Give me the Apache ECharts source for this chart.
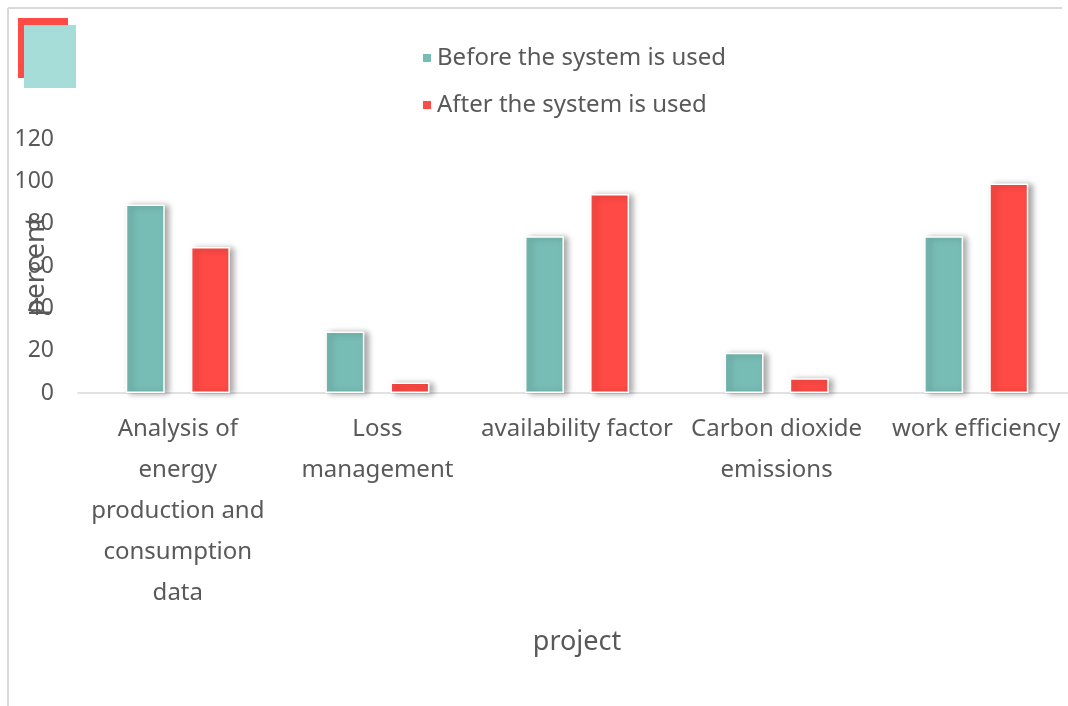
<!DOCTYPE html>
<html>
<head>
<meta charset="utf-8">
<script src="https://cdn.jsdelivr.net/npm/echarts@6/dist/echarts.min.js"></script>
<style>
  html, body { margin: 0; padding: 0; background: #fff; }
  #chart { width: 1068px; height: 706px; }
</style>
</head>
<body>
<div id="chart"></div>
<script>
// categories (line breaks as in the picture)
const categories = [
  'Analysis of\nenergy\nproduction and\nconsumption\ndata',
  'Loss\nmanagement',
  'availability factor',
  'Carbon dioxide\nemissions',
  'work efficiency'
];
const beforeValues = [89, 29, 74, 19, 74];
const afterValues = [69, 5, 94, 7, 99];
const seriesNames = ['Before the system is used', 'After the system is used'];

const teal = '#77bdb5';
const red = '#ff4a45';
const font = '"Noto Sans", "Open Sans", sans-serif';
const textColor = '#595959';

const chart = echarts.init(document.getElementById('chart'));

// shared bar look: thin white edge and soft shadow to the right
function barStyle(color) {
  return {
    color: color,
    borderColor: '#fff',
    borderWidth: 1.5,
    shadowColor: 'rgba(0,0,0,0.35)',
    shadowBlur: 6,
    shadowOffsetX: 4,
    shadowOffsetY: 1
  };
}

chart.setOption({
  animation: false,
  textStyle: { fontFamily: font },
  graphic: [
    // frame lines (left and top)
    { type: 'line', shape: { x1: 8, y1: 8, x2: 8, y2: 706 }, style: { stroke: '#d9d9d9', lineWidth: 2 } },
    { type: 'line', shape: { x1: 8, y1: 8, x2: 1062, y2: 8 }, style: { stroke: '#d9d9d9', lineWidth: 2 } },
    // decorative icon at top-left
    { type: 'rect', shape: { x: 18, y: 18, width: 50, height: 60 }, style: { fill: '#ff4a45' } },
    { type: 'rect', shape: { x: 24, y: 25, width: 52, height: 63 }, style: { fill: '#a6ddd8' } }
  ],
  legend: {
    orient: 'vertical',
    left: 416,
    top: 41,
    itemWidth: 10,
    itemHeight: 10,
    itemGap: 23,
    icon: 'rect',
    textStyle: { fontSize: 24, color: textColor, fontFamily: font },
    data: seriesNames
  },
  grid: {
    left: 78,
    top: 139,
    width: 998,
    height: 254,
    outerBoundsMode: 'none',
    containLabel: false
  },
  xAxis: {
    type: 'category',
    data: categories,
    name: 'project',
    nameLocation: 'middle',
    nameGap: 236,
    nameMoveOverlap: false,
    nameTextStyle: { fontSize: 27, color: textColor, fontFamily: font },
    axisLine: { lineStyle: { color: '#d9d9d9', width: 1.5 } },
    axisTick: { show: false },
    axisLabel: {
      interval: 0,
      margin: 16,
      fontSize: 24,
      lineHeight: 41,
      color: textColor,
      fontFamily: font
    }
  },
  yAxis: {
    type: 'value',
    min: 0,
    max: 120,
    interval: 20,
    name: 'percent',
    nameLocation: 'middle',
    nameRotate: 90,
    nameGap: 28,
    nameMoveOverlap: false,
    nameTextStyle: { fontSize: 28, color: textColor, fontFamily: font },
    axisLine: { show: false },
    axisTick: { show: false },
    splitLine: { show: false },
    axisLabel: { fontSize: 23, color: textColor, margin: 24, fontFamily: font }
  },
  series: [
    {
      name: seriesNames[0],
      type: 'bar',
      data: beforeValues,
      barWidth: 39,
      barGap: '67%',
      itemStyle: barStyle(teal)
    },
    {
      name: seriesNames[1],
      type: 'bar',
      data: afterValues,
      barWidth: 39,
      barGap: '67%',
      itemStyle: barStyle(red)
    }
  ]
});
</script>
</body>
</html>
